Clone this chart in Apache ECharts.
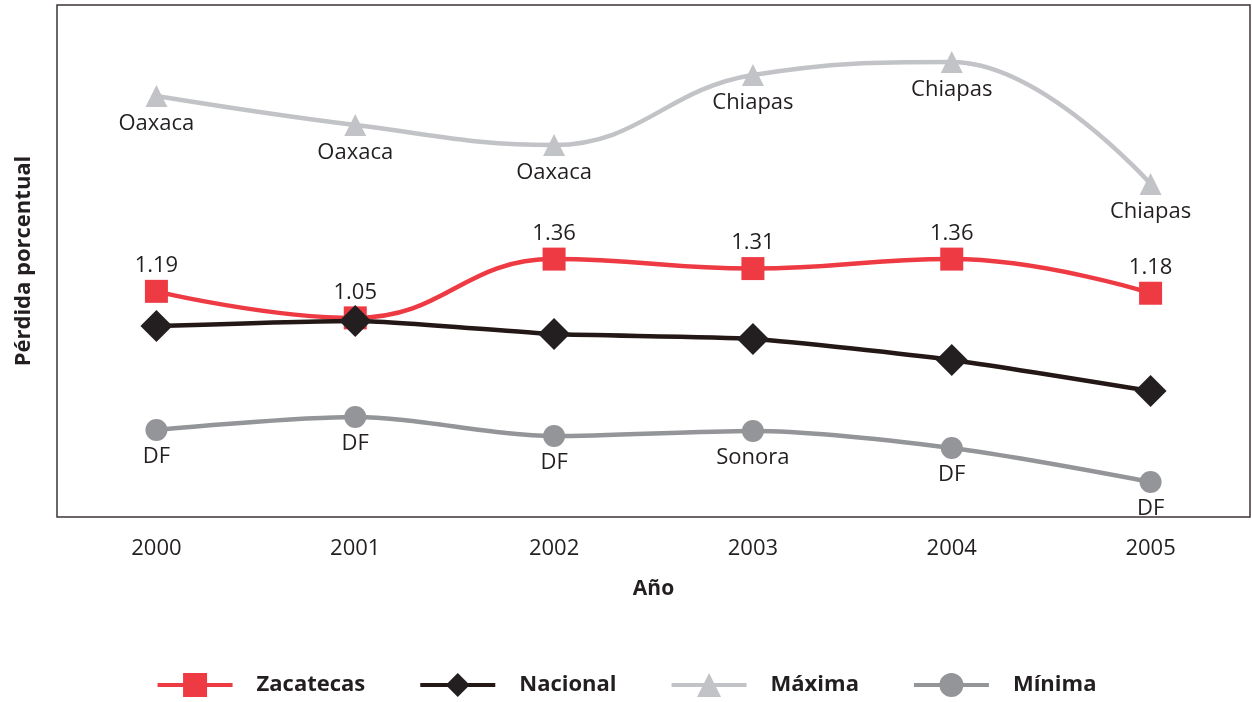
<!DOCTYPE html>
<html>
<head>
<meta charset="utf-8">
<script src="https://cdn.jsdelivr.net/npm/echarts@6/dist/echarts.min.js"></script>
<style>
html,body{margin:0;padding:0;background:#fff;}
#chart{width:1252px;height:702px;}
</style>
</head>
<body>
<div id="chart"></div>
<script>
var years = ['2000', '2001', '2002', '2003', '2004', '2005'];
var zacatecas = [1.19, 1.05, 1.36, 1.31, 1.36, 1.18];
var nacional = [1.007, 1.034, 0.965, 0.939, 0.828, 0.664];
var maxima = [2.22, 2.067, 1.962, 2.331, 2.399, 1.756];
var minima = [0.459, 0.527, 0.427, 0.454, 0.364, 0.185];
var maxStates = ['Oaxaca', 'Oaxaca', 'Oaxaca', 'Chiapas', 'Chiapas', 'Chiapas'];
var minStates = ['DF', 'DF', 'DF', 'Sonora', 'DF', 'DF'];

var font = 'Open Sans';
var txt = '#231f20';

var myChart = echarts.init(document.getElementById('chart'));

option = {
    animation: false,
    textStyle: { fontFamily: font },
    grid: {
        left: 57, right: 2, top: 5, bottom: 185,
        show: true, borderColor: '#3d3535', borderWidth: 1.5,
        containLabel: false
    },
    legend: {
        bottom: 0,
        left: 'center',
        itemWidth: 75,
        itemHeight: 30,
        itemGap: 53,
        lineStyle: { width: 4 },
        textStyle: { fontFamily: font, fontSize: 22, fontWeight: 'bold', color: txt, padding: [0, 0, 0, 19] },
        data: ['Zacatecas', 'Nacional', 'Máxima', 'Mínima']
    },
    xAxis: {
        type: 'category',
        data: years,
        name: 'Año',
        nameLocation: 'middle',
        nameGap: 62,
        nameTextStyle: { fontFamily: font, fontSize: 21, fontWeight: 'bold', color: txt },
        axisLine: { show: false },
        axisTick: { show: false },
        axisLabel: { fontFamily: font, fontSize: 22, color: txt, margin: 21 }
    },
    yAxis: {
        type: 'value',
        min: 0,
        max: 2.7,
        name: 'Pérdida porcentual',
        nameLocation: 'middle',
        nameGap: 22,
        nameTextStyle: { fontFamily: font, fontSize: 22, fontWeight: 'bold', color: txt },
        axisLine: { show: false },
        axisTick: { show: false },
        axisLabel: { show: false },
        splitLine: { show: false }
    },
    series: [
        {
            name: 'Zacatecas', type: 'line', data: zacatecas, smooth: 0.45,
            symbol: 'rect', symbolSize: 23,
            lineStyle: { color: '#ee3a43', width: 4.5 },
            itemStyle: { color: '#ee3a43' },
            label: { show: true, position: 'top', distance: 3, fontFamily: font, fontSize: 22, color: txt }
        },
        {
            name: 'Nacional', type: 'line', data: nacional, smooth: 0.2,
            symbol: 'diamond', symbolSize: [32, 32],
            lineStyle: { color: '#231816', width: 4.5 },
            itemStyle: { color: '#231f20' }
        },
        {
            name: 'Máxima', type: 'line', data: maxima, smooth: 0.42,
            symbol: 'triangle', symbolSize: 22,
            lineStyle: { color: '#c2c3c6', width: 4.5 },
            itemStyle: { color: '#c2c3c6' },
            label: {
                show: true, position: 'bottom', distance: 6, fontFamily: font, fontSize: 22, color: txt,
                formatter: function (p) { return maxStates[p.dataIndex]; }
            }
        },
        {
            name: 'Mínima', type: 'line', data: minima, smooth: 0.3,
            symbol: 'circle', symbolSize: 22,
            lineStyle: { color: '#939598', width: 4.5 },
            itemStyle: { color: '#939598' },
            label: {
                show: true, position: 'bottom', distance: 5, fontFamily: font, fontSize: 22, color: txt,
                formatter: function (p) { return minStates[p.dataIndex]; }
            }
        }
    ]
};

myChart.setOption(option);
</script>
</body>
</html>
